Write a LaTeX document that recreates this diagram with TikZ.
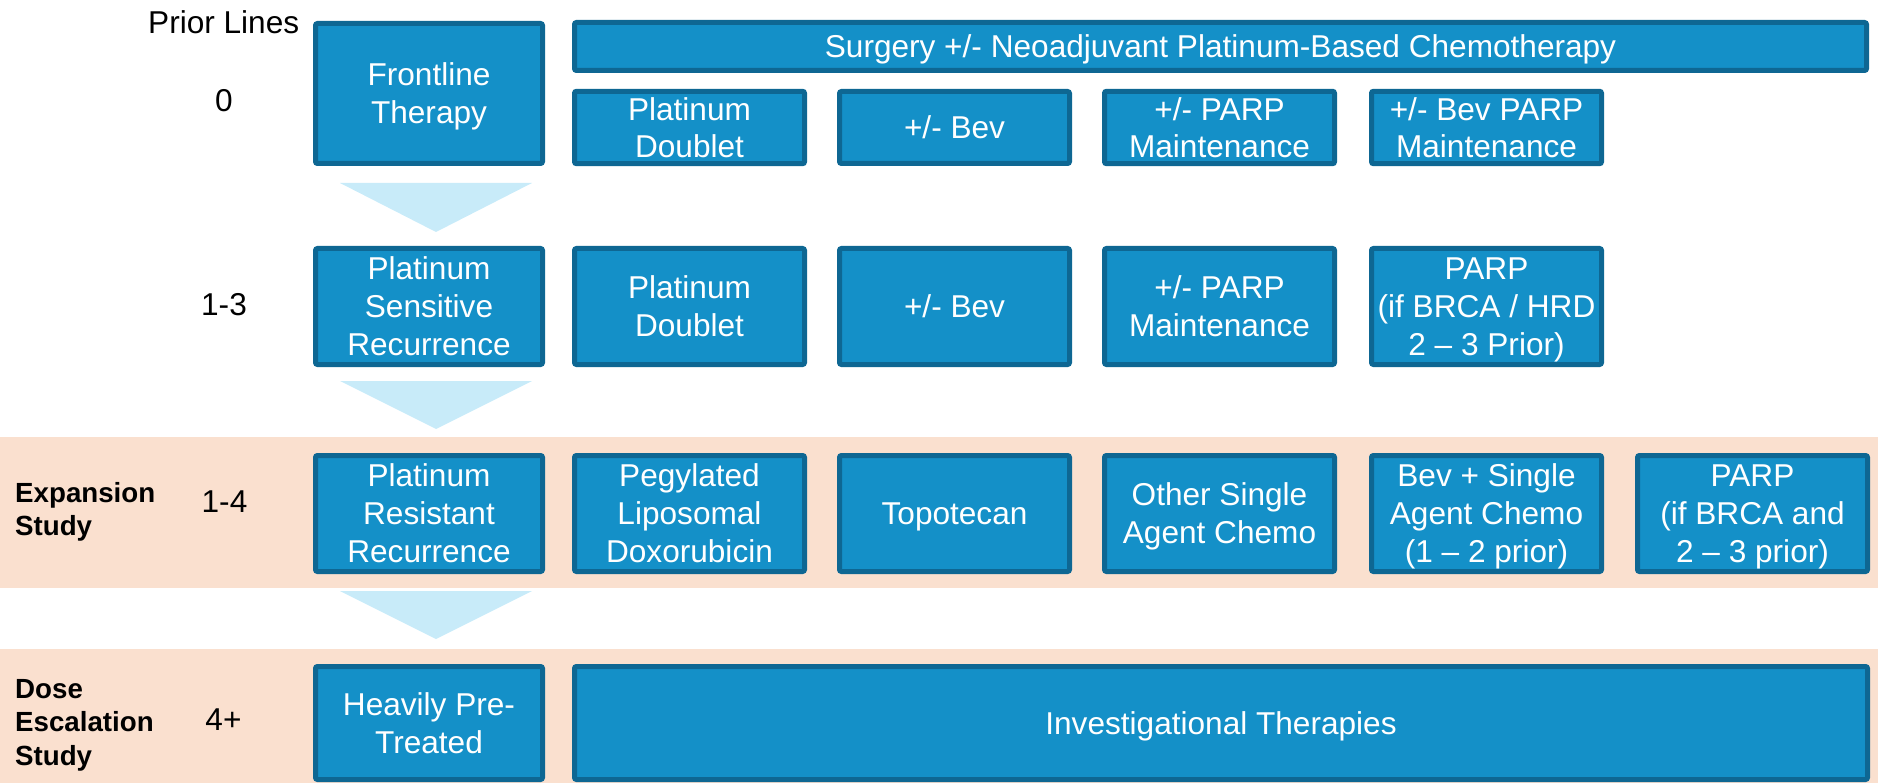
\documentclass[tikz,border=0pt]{standalone}
\usepackage{fontspec}
\setmainfont{Liberation Sans}
\definecolor{boxfill}{RGB}{20,144,200}
\definecolor{boxline}{RGB}{14,103,147}
\definecolor{arrowfill}{RGB}{200,235,249}
\definecolor{bandfill}{RGB}{250,224,207}
\newcommand{\capst}{\rule[-0.21em]{0pt}{1.136em}}
\tikzset{
  tbox/.style={draw=boxline, fill=boxfill, line width=5pt, rounded corners=2pt,
    text=white, align=center, inner sep=0pt, outer sep=0pt,
    font=\fontsize{31.6}{38}\selectfont},
  tight/.style={font=\fontsize{31.6}{36.5}\selectfont},
  numlab/.style={anchor=base, inner sep=0pt, font=\fontsize{31.6}{38}\selectfont},
  studylab/.style={anchor=north west, align=left, inner sep=0pt,
    font=\fontsize{27.7}{33.4}\selectfont\bfseries},
  chevron/.style={fill=arrowfill},
  band/.style={fill=bandfill}
}
% \tbx[opts]{name}{x1}{y1}{x2}{y2}{text}  (outer edges in px)
\newcommand{\tbx}[7][]{%
  \node[tbox,#1,minimum width={#5-#3-5},minimum height={#6-#4-5}]
    (#2) at ({(#3+#5)/2},{(#4+#6)/2}) {#7};}
\begin{document}
\begin{tikzpicture}[x=1pt,y=-1pt]
\useasboundingbox (0,0) rectangle (1878,783);
% bands
\path[band] (0,437) rectangle (1878,588);
\path[band] (0,649) rectangle (1878,783);
% chevrons
\path[chevron] (340,183) -- (532,183) -- (436,232) -- cycle;
\path[chevron] (340,381) -- (532,381) -- (436,429) -- cycle;
\path[chevron] (340,591) -- (532,591) -- (436,639) -- cycle;
% left labels
\node[anchor=base west, inner sep=0pt, font=\fontsize{31.6}{38}\selectfont] (prior) at (148,34) {Prior Lines};
\node[numlab] (l0) at (224,112) {0};
\node[numlab] (l13) at (224,316) {1-3};
\node[numlab] (l14) at (224.5,512) {1-4};
\node[numlab] (l4) at (223.5,730) {4+};
\node[studylab] (expan) at (15,476.4) {\capst Expansion\\Study};
\node[studylab] (dose) at (15,672.4) {\capst Dose\\Escalation\\Study};
% row 0
\tbx{front}{313}{21}{545}{166}{\capst Frontline\\\capst Therapy}
\tbx{surg}{572}{20}{1869}{73}{\capst Surgery +/- Neoadjuvant Platinum-Based Chemotherapy}
\tbx[tight]{a1}{572}{89}{807}{166}{\capst Platinum\\\capst Doublet}
\tbx[tight]{a2}{837}{89}{1072}{166}{\capst +/- Bev}
\tbx[tight]{a3}{1102}{89}{1337}{166}{\capst +/- PARP\\\capst Maintenance}
\tbx[tight]{a4}{1369}{89}{1604}{166}{\capst +/- Bev PARP\\\capst Maintenance}
% row 1-3
\tbx{sens}{313}{246}{545}{367}{\capst Platinum\\\capst Sensitive\\\capst Recurrence}
\tbx{b1}{572}{246}{807}{367}{\capst Platinum\\\capst Doublet}
\tbx{b2}{837}{246}{1072}{367}{\capst +/- Bev}
\tbx{b3}{1102}{246}{1337}{367}{\capst +/- PARP\\\capst Maintenance}
\tbx{b4}{1369}{246}{1604}{367}{\capst PARP\\\capst (if BRCA / HRD\\\capst 2 – 3 Prior)}
% row 1-4
\tbx{resist}{313}{453}{545}{574}{\capst Platinum\\\capst Resistant\\\capst Recurrence}
\tbx{c1}{572}{453}{807}{574}{\capst Pegylated\\\capst Liposomal\\\capst Doxorubicin}
\tbx{c2}{837}{453}{1072}{574}{\capst Topotecan}
\tbx{c3}{1102}{453}{1337}{574}{\capst Other Single\\\capst Agent Chemo}
\tbx{c4}{1369}{453}{1604}{574}{\capst Bev + Single\\\capst Agent Chemo\\\capst (1 – 2 prior)}
\tbx{c5}{1635}{453}{1870}{574}{\capst PARP\\\capst (if BRCA and\\\capst 2 – 3 prior)}
% row 4+
\tbx{heavy}{313}{664}{545}{782}{\capst Heavily Pre-\\\capst Treated}
\tbx{invest}{572}{664}{1870}{782}{\capst Investigational Therapies}
\end{tikzpicture}
\end{document}
